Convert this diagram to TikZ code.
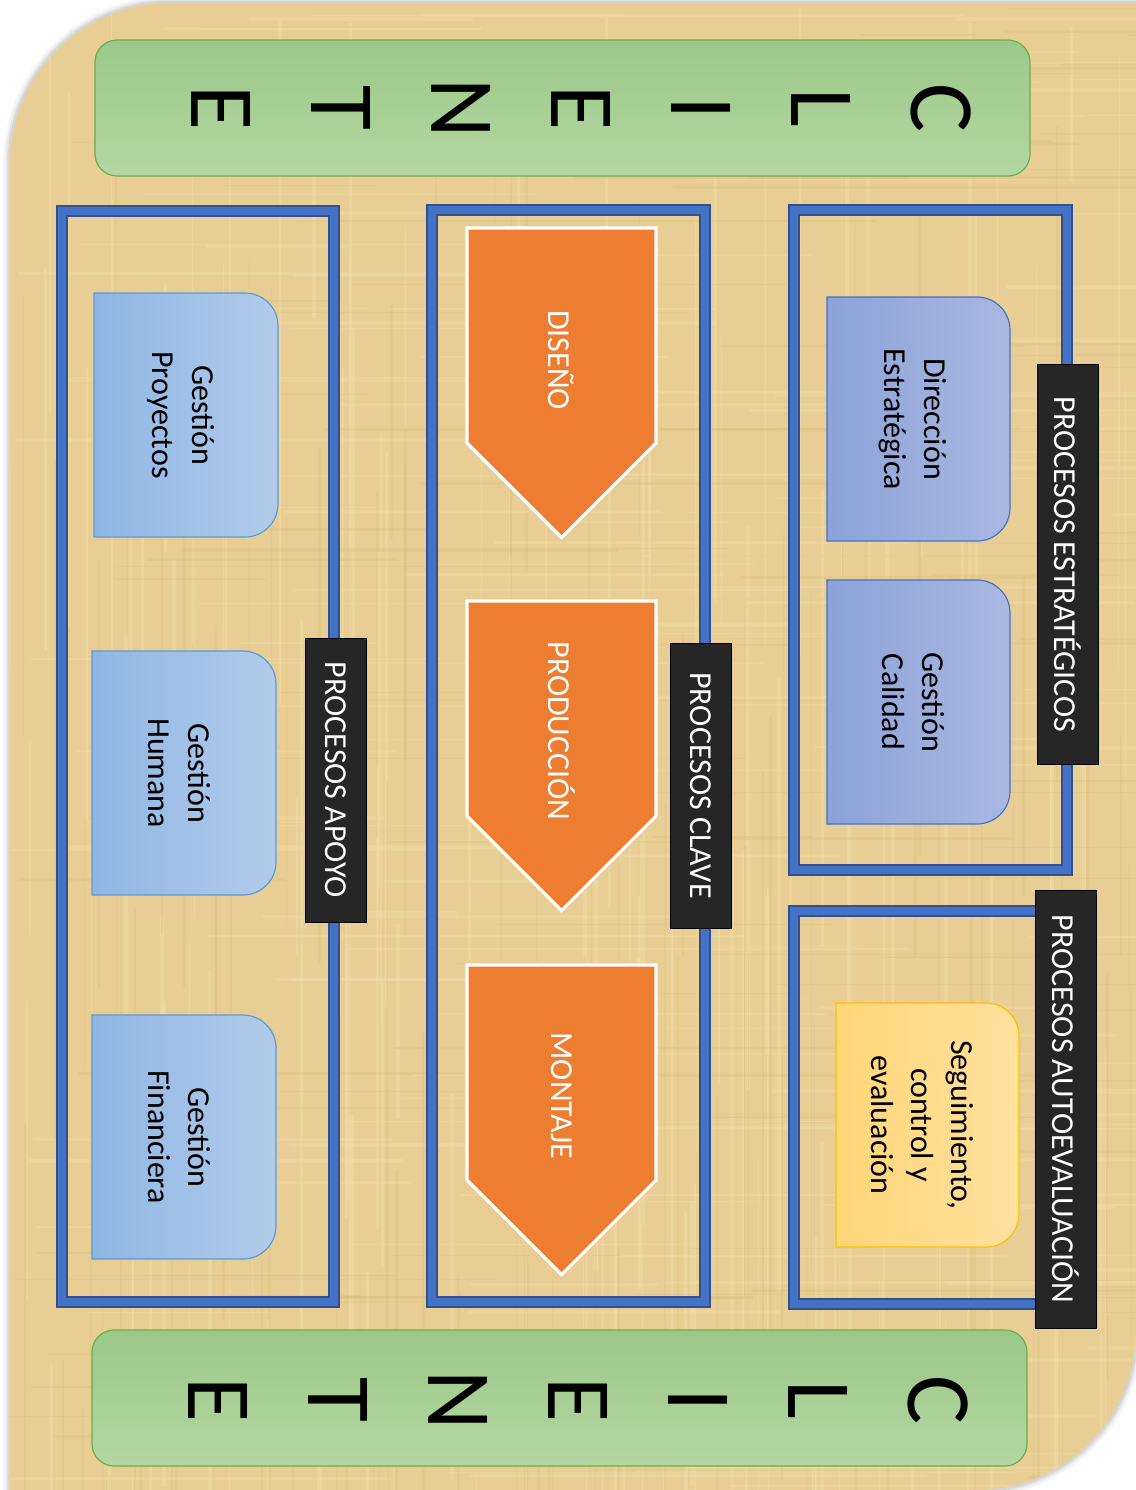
\documentclass[tikz,border=0pt]{standalone}
\usepackage{fontspec}
\setmainfont{Carlito}
\definecolor{papyrus}{RGB}{232,206,148}
\definecolor{papyrusLight}{RGB}{242,222,172}
\definecolor{papyrusDark}{RGB}{214,184,120}
\definecolor{greenTop}{RGB}{155,201,135}
\definecolor{greenBot}{RGB}{180,214,163}
\definecolor{greenEdge}{RGB}{112,173,71}
\definecolor{frameBlue}{RGB}{68,114,196}
\definecolor{frameDark}{RGB}{47,82,143}
\definecolor{tagBlack}{RGB}{38,38,38}
\definecolor{skyL}{RGB}{143,182,228}
\definecolor{skyR}{RGB}{178,203,234}
\definecolor{skyEdge}{RGB}{91,155,213}
\definecolor{lavL}{RGB}{140,162,216}
\definecolor{lavR}{RGB}{170,184,225}
\definecolor{lavEdge}{RGB}{68,114,196}
\definecolor{sandL}{RGB}{255,214,120}
\definecolor{sandR}{RGB}{255,224,158}
\definecolor{sandEdge}{RGB}{255,192,0}
\definecolor{chevOrange}{RGB}{237,125,49}

% box with the two right-hand corners rounded
\newcommand\rrbox[5]{%
  \path[#1] (#2,#3) -- ({#4-33},#3)
    .. controls ({#4-14.8},#3) and (#4,{#3+14.8}) .. (#4,{#3+33})
    -- (#4,{#5-33})
    .. controls (#4,{#5-14.8}) and ({#4-14.8},#5) .. ({#4-33},#5)
    -- (#2,#5) -- cycle;}

\begin{document}
\begin{tikzpicture}[x=0.5pt,y=-0.5pt,
  frame/.style={draw=frameDark, line width=0.8pt, double=frameBlue, double distance=4pt},
  greenbar/.style={top color=greenTop, bottom color=greenBot, draw=greenEdge, line width=0.6pt, rounded corners=11pt},
  skybox/.style={left color=skyL, right color=skyR, draw=skyEdge, line width=0.6pt},
  lavbox/.style={left color=lavL, right color=lavR, draw=lavEdge, line width=0.6pt},
  sandbox/.style={left color=sandL, right color=sandR, draw=sandEdge, line width=0.6pt},
  chevron/.style={fill=chevOrange, draw=white, line width=1.6pt},
  tag/.style={fill=tagBlack, draw=black, line width=0.5pt, text=white, rotate=-90,
    minimum height=30.5pt, inner sep=0pt, font=\fontsize{16}{19}\selectfont},
  boxtext/.style={rotate=-90, align=center, inner sep=0pt, font=\fontsize{16}{20}\selectfont},
  chevtext/.style={rotate=-90, text=white, inner sep=0pt, font=\fontsize{16}{19}\selectfont},
  letter/.style={rotate=-90, inner sep=0pt, font=\fontsize{46}{50}\selectfont}]

\useasboundingbox (0,0) rectangle (1136,1490);

% papyrus sheet with two rounded diagonal corners
\def\sheet{(10,1490) -- (10,164) .. controls (10,75.7) and (81.7,3) .. (170,3)
  -- (1136,3) -- (1136,1330) .. controls (1136,1418.3) and (1064.3,1490) .. (976,1490) -- cycle}
\foreach \w/\o in {14/0.04,9/0.06,5/0.08}
  \draw[black, opacity=\o, line width=\w*0.5pt] \sheet;
\fill[papyrus] \sheet;
\begin{scope}
  \clip \sheet;
  \pgfmathsetseed{11}
  % fibres of the sheet
  \foreach \i in {1,...,160} {
    \pgfmathsetmacro\pos{rnd*1136}\pgfmathsetmacro\wd{0.5+rnd*4}
    \pgfmathsetmacro\ya{rnd*1490}\pgfmathsetmacro\yb{\ya+150+rnd*600}
    \draw[papyrusLight, opacity=0.4, line width=\wd*0.5pt] (\pos,\ya) -- (\pos,\yb);
  }
  \foreach \i in {1,...,160} {
    \pgfmathsetmacro\pos{rnd*1490}\pgfmathsetmacro\wd{0.5+rnd*4}
    \pgfmathsetmacro\xa{rnd*1136}\pgfmathsetmacro\xb{\xa+120+rnd*500}
    \draw[papyrusLight, opacity=0.35, line width=\wd*0.5pt] (\xa,\pos) -- (\xb,\pos);
  }
  \foreach \i in {1,...,110} {
    \pgfmathsetmacro\pos{rnd*1136}\pgfmathsetmacro\wd{0.5+rnd*2.5}
    \pgfmathsetmacro\ya{rnd*1490}\pgfmathsetmacro\yb{\ya+150+rnd*600}
    \draw[papyrusDark, opacity=0.22, line width=\wd*0.5pt] (\pos,\ya) -- (\pos,\yb);
  }
  \foreach \i in {1,...,110} {
    \pgfmathsetmacro\pos{rnd*1490}\pgfmathsetmacro\wd{0.5+rnd*2.5}
    \pgfmathsetmacro\xa{rnd*1136}\pgfmathsetmacro\xb{\xa+120+rnd*500}
    \draw[papyrusDark, opacity=0.22, line width=\wd*0.5pt] (\xa,\pos) -- (\xb,\pos);
  }
\end{scope}

% customer bars
\path[greenbar] (95,40) rectangle (1030,176);
\path[greenbar] (92,1330) rectangle (1027,1466);
\foreach \l/\px [count=\i] in {C/941,L/821,I/701,E/581,N/461,T/341,E/221}
  \node[letter] (top\i) at (\px,108) {\l};
\foreach \l/\px [count=\i] in {C/938,L/818,I/698,E/578,N/458,T/338,E/218}
  \node[letter] (bot\i) at (\px,1400) {\l};

% process frames
\draw[frame] (62,211) rectangle (334,1302);
\draw[frame] (432,210) rectangle (705,1302);
\draw[frame] (794,210) rectangle (1067,870);
\draw[frame] (794,911) rectangle (1067,1304);

% support processes
\rrbox{skybox}{94}{293}{278}{537}
\rrbox{skybox}{92}{651}{276}{895}
\rrbox{skybox}{92}{1015}{276}{1259}
\node[boxtext] (proyectos) at (181,415) {Gestión\\Proyectos};
\node[boxtext] (humana) at (179,773) {Gestión\\Humana};
\node[boxtext] (financiera) at (179,1137) {Gestión\\Financiera};

% key processes
\path[chevron] (467,228) -- (656,228) -- (656,443) -- (561.5,537.5) -- (467,443) -- cycle;
\path[chevron] (467,601) -- (656,601) -- (656,816) -- (561.5,910.5) -- (467,816) -- cycle;
\path[chevron] (467,965) -- (656,965) -- (656,1180) -- (561.5,1274.5) -- (467,1180) -- cycle;
\node[chevtext] (diseno) at (561.5,360) {DISEÑO};
\node[chevtext] (produccion) at (561.5,731) {PRODUCCIÓN};
\node[chevtext] (montaje) at (561.5,1096) {MONTAJE};

% strategic processes
\rrbox{lavbox}{827}{297}{1010}{541}
\rrbox{lavbox}{827}{580}{1010}{824}
\node[boxtext] (direccion) at (913,419) {Dirección\\Estratégica};
\node[boxtext] (calidad) at (913,702) {Gestión\\Calidad};

% self-assessment
\rrbox{sandbox}{836}{1003}{1019}{1247}
\node[boxtext] (seguimiento) at (922,1125) {Seguimiento,\\control y\\evaluación};

% group tags
\node[tag, minimum width=200pt] (estrategicos) at (1067.5,564.5) {PROCESOS ESTRATÉGICOS};
\node[tag, minimum width=219pt] (autoevaluacion) at (1065.5,1109) {PROCESOS AUTOEVALUACIÓN};
\node[tag, minimum width=142.5pt] (clave) at (700.5,785.5) {PROCESOS CLAVE};
\node[tag, minimum width=142pt] (apoyo) at (335.5,780) {PROCESOS APOYO};
\end{tikzpicture}
\end{document}
